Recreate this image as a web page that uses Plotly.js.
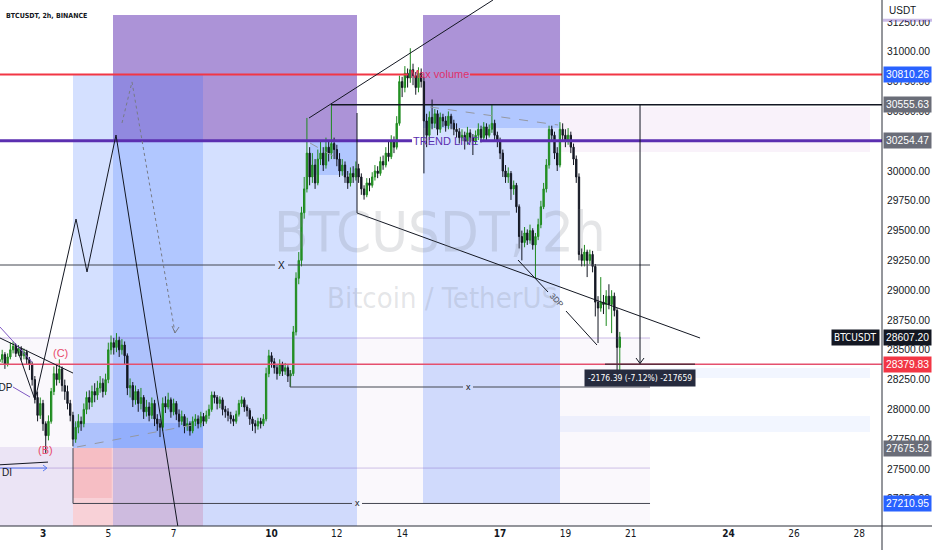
<!DOCTYPE html>
<html><head><meta charset="utf-8">
<script src="https://cdn.plot.ly/plotly-3.0.1.min.js"></script>
<style>html,body{margin:0;padding:0;background:#fff;}#chart{width:932px;height:550px;}</style>
</head><body><div id="chart"></div>
<script>
// ---- data (BTCUSDT 2h, BINANCE, April 2023) ----
const startTime = '2023-04-01T16:00:00Z';
const barHours = 2;
const opens = [
28400,28420,28460,28380,28440,28500,28530,28470,28510,28450,28480,28420,
28380,28250,28100,27950,28050,27880,27780,27900,28150,28300,28250,28340,
28200,28150,28050,27950,27750,27850,27900,27880,28000,28100,28060,28150,
28120,28180,28220,28150,28250,28500,28560,28520,28580,28500,28540,28450,
28180,28200,28080,28150,28050,28100,27980,28020,27950,28050,27920,27880,
27850,28050,28020,28080,27980,28050,27960,27900,27940,27860,27880,27820,
27900,27920,27880,27940,27900,27950,28000,28120,28100,28050,28080,28000,
27980,27950,27920,27900,27960,28050,28080,28020,27990,27920,27880,27860,
27900,27880,27920,28300,28450,28400,28350,28300,28380,28320,28350,28280,
28300,28650,29100,29250,29650,29850,30150,29950,30050,29900,30100,30150,
30050,30200,30150,30230,30180,30100,30000,30050,29950,29900,29980,29950,
30020,29950,29850,29800,29900,29880,29950,30000,29980,30080,30050,30150,
30120,30250,30200,30400,30750,30700,30820,30780,30850,30800,30700,30820,
30750,30420,30300,30450,30400,30480,30350,30450,30420,30380,30460,30400,
30350,30330,30280,30300,30250,30320,30280,30250,30300,30350,30280,30370,
30300,30350,30400,30300,30250,30150,30000,29950,29980,29850,29880,29700,
29450,29400,29480,29420,29500,29380,29450,29550,29700,29850,30050,30350,
30300,30150,30050,30350,30300,30250,30300,30200,30100,29950,29300,29250,
29320,29250,29300,29200,28900,28850,28900,28880,28950,28880,28950,28830,28520];
const highs = [
28470,28500,28480,28470,28560,28570,28550,28540,28530,28510,28500,28440,
28400,28280,28150,28100,28080,27900,27950,28180,28360,28380,28420,28360,
28250,28200,28080,27980,27900,27960,27940,28050,28150,28160,28200,28220,
28240,28280,28260,28300,28560,28620,28600,28640,28610,28590,28570,28470,
28260,28230,28200,28170,28180,28120,28080,28060,28100,28080,27960,27920,
28100,28110,28140,28100,28090,28070,28000,27990,27960,27930,27900,27940,
27960,27950,27980,27970,27990,28040,28150,28150,28120,28110,28100,28030,
28010,27980,27950,27990,28080,28110,28100,28040,28010,27940,27910,27930,
27930,27960,28350,28500,28480,28430,28380,28420,28400,28390,28370,28330,
28700,29150,29320,29700,29950,30445,30200,30150,30100,30180,30250,30200,
30280,30260,30555,30280,30220,30150,30100,30080,30000,30030,30040,30080,
30060,29980,29880,29940,29940,29990,30050,30040,30120,30130,30200,30260,
30300,30290,30460,30800,30790,30880,30860,31030,30900,30830,30870,30860,
30790,30480,30500,30600,30520,30510,30490,30480,30460,30500,30480,30430,
30400,30360,30350,30330,30370,30350,30310,30340,30400,30380,30410,30400,
30390,30555,30430,30330,30280,30180,30050,30030,30000,29920,29900,29720,
29500,29530,29510,29550,29520,29480,29600,29750,29900,30100,30380,30380,
30330,30200,30410,30400,30350,30360,30330,30230,30130,29980,29350,29380,
29340,29340,29330,29220,28950,29110,28960,29000,29050,29000,28980,28850,28650];
const lows = [
28350,28390,28340,28360,28420,28470,28440,28450,28410,28420,28380,28330,
28200,28050,27900,27920,27820,27635,27740,27880,28120,28200,28220,28150,
28080,28000,27900,27690,27720,27800,27820,27850,27960,28000,28020,28060,
28080,28140,28100,28120,28220,28460,28460,28480,28440,28460,28380,28120,
28100,28020,28040,27980,28000,27920,27940,27900,27920,27860,27820,27768,
27820,27970,28000,27930,27950,27910,27850,27870,27800,27820,27780,27800,
27860,27840,27850,27860,27880,27920,27980,28050,28000,28010,27950,27930,
27900,27880,27860,27880,27940,28020,27980,27940,27870,27820,27800,27830,
27840,27860,27900,28270,28350,28300,28250,28280,28280,28290,28230,28190,
28280,28620,29050,29200,29600,29820,29880,29900,29850,29880,30050,30000,
30020,30080,30100,30100,30040,29950,29960,29900,29850,29870,29900,29920,
29900,29800,29760,29780,29830,29860,29920,29940,29960,30010,30030,30080,
30100,30150,30180,30380,30620,30660,30700,30740,30720,30640,30660,30700,
29980,30200,30260,30350,30360,30300,30320,30370,30330,30350,30350,30300,
30280,30230,30250,30180,30220,30240,30134,30220,30260,30240,30250,30260,
30280,30320,30260,30200,30100,29950,29900,29900,29757,29800,29650,29350,
29250,29360,29380,29390,29340,29100,29420,29520,29680,29820,30020,30250,
30100,30000,30030,30250,30200,30220,30150,30050,29900,29250,29200,29200,
29110,29220,29150,28780,28557,28820,28800,28700,28840,28640,28780,28300,28330];
const closes = [
28420,28460,28380,28440,28500,28530,28470,28510,28450,28480,28420,28380,
28250,28100,27950,28050,27880,27780,27900,28150,28300,28250,28340,28200,
28150,28050,27950,27750,27850,27900,27880,28000,28100,28060,28150,28120,
28180,28220,28150,28250,28500,28560,28520,28580,28500,28540,28450,28180,
28200,28080,28150,28050,28100,27980,28020,27950,28050,27920,27880,27850,
28050,28020,28080,27980,28050,27960,27900,27940,27860,27880,27820,27900,
27920,27880,27940,27900,27950,28000,28120,28100,28050,28080,28000,27980,
27950,27920,27900,27960,28050,28080,28020,27990,27920,27880,27860,27900,
27880,27920,28300,28450,28400,28350,28300,28380,28320,28350,28280,28300,
28650,29100,29250,29650,29850,30150,29950,30050,29900,30100,30150,30050,
30200,30150,30230,30180,30100,30000,30050,29950,29900,29980,29950,30020,
29950,29850,29800,29900,29880,29950,30000,29980,30080,30050,30150,30120,
30250,30200,30400,30750,30700,30820,30780,30850,30800,30700,30820,30750,
30420,30300,30450,30400,30480,30350,30450,30420,30380,30460,30400,30350,
30330,30280,30300,30250,30320,30280,30250,30300,30350,30280,30370,30300,
30350,30400,30300,30250,30150,30000,29950,29980,29850,29880,29700,29450,
29400,29480,29420,29500,29380,29450,29550,29700,29850,30050,30350,30300,
30150,30050,30350,30300,30250,30300,30200,30100,29950,29300,29250,29320,
29250,29300,29200,28900,28850,28900,28880,28950,28880,28950,28830,28520,28607.2];

const priceTicks = [27250,27500,27750,28000,28250,28500,28750,29000,29250,29500,29750,30000,30500,30750,31000,31250];
const dayTicks = ['2023-04-03','2023-04-05','2023-04-07','2023-04-10','2023-04-12','2023-04-14','2023-04-17','2023-04-19','2023-04-21','2023-04-24','2023-04-26','2023-04-28'];
const dayLabels = ['<b>3</b>','5','7','<b>10</b>','12','14','<b>17</b>','19','21','<b>24</b>','26','28'];

const levels = {maxVolume:30810.26, high:30555.63, trend:30254.47, last:28607.20, low:28379.83, lvl2:27675.52, lvl3:27210.95};
const measureText = '-2176.39 (-7.12%) -217659';

// ---- build ----
const t0 = Date.parse(startTime);
const times = opens.map((_, i) => new Date(t0 + i*barHours*3600e3).toISOString().slice(0,16).replace('T',' '));

const P = 'rgba(103,58,183,0.55)', B = 'rgba(41,98,255,0.2)', R = 'rgba(242,54,69,0.2)';
const K = '#131722', G = '#434651';
const rects = [
 ['2023-04-01 00:00','2023-04-21 14:13',26800,28599,'rgba(103,58,183,0.035)'],
 ['2023-04-01 00:00','2023-04-03 22:03',26800,27685,'rgba(103,58,183,0.1)'],
 ['2023-04-05 03:27','2023-04-12 14:49',levels.trend,31308.7,P],
 ['2023-04-03 22:03','2023-04-07 21:37',levels.lvl2,levels.maxVolume,B],
 ['2023-04-03 22:03','2023-04-07 21:37',26800,levels.lvl2,R],
 ['2023-04-03 22:03','2023-04-05 02:30',27256.8,levels.lvl2,'rgba(242,54,69,0.12)'],
 ['2023-04-05 03:27','2023-04-12 14:49',26800,levels.trend,B],
 ['2023-04-14 15:20','2023-04-18 20:03',levels.high,31308.7,P],
 ['2023-04-14 15:20','2023-04-18 20:03',levels.lvl3,levels.high,B],
 ['2023-04-03 22:03','2023-04-07 21:37',levels.lvl2,27886,B],
 ['2023-04-11 04:16','2023-04-12 14:49',29966,levels.trend,B],
 ['2023-04-14 15:20','2023-04-18 20:03',30360.7,levels.high,B],
 ['2023-04-18 20:03','2023-04-28 07:55',30159,30537,'rgba(156,39,176,0.06)'],
 ['2023-04-21 14:13','2023-04-28 07:55',28263,28347,'rgba(41,98,255,0.06)'],
 ['2023-04-18 20:03','2023-04-28 07:55',27810,27945,'rgba(41,98,255,0.06)']
];
const segs = [
 ['2023-04-01 00:00',28599,'2023-04-21 14:13',28599,'rgba(103,58,183,0.35)',1,'solid'],
 ['2023-04-01 00:00',27508,'2023-04-21 14:13',27508,'rgba(103,58,183,0.3)',1,'solid'],
 ['2023-04-01 00:00',levels.maxVolume,'2023-04-14 04:18',levels.maxVolume,'#f23645',2,'solid'],
 ['2023-04-16 01:54',levels.maxVolume,'2023-04-30 00:00',levels.maxVolume,'#f23645',2,'solid'],
 ['2023-04-01 00:00',levels.trend,'2023-04-14 07:16',levels.trend,'#5b2fb0',3,'solid'],
 ['2023-04-16 09:13',levels.trend,'2023-04-30 00:00',levels.trend,'#5b2fb0',3,'solid'],
 ['2023-04-11 19:43',levels.high,'2023-04-30 00:00',levels.high,K,1.5,'solid'],
 ['2023-04-01 00:00',levels.low,'2023-04-30 00:00',levels.low,'#e5506e',1.5,'solid'],
 ['2023-04-20 05:08',levels.low,'2023-04-22 23:18',levels.low,K,1,'solid'],
 ['2023-04-01 00:00',29211.4,'2023-04-10 02:33',29211.4,G,1,'solid'],
 ['2023-04-10 12:06',29211.4,'2023-04-21 14:13',29211.4,G,1,'solid'],
 ['2023-04-10 13:34',28188,'2023-04-15 20:45',28188,G,1,'solid'],
 ['2023-04-16 04:05',28188,'2023-04-21 14:13',28188,G,1,'solid'],
 ['2023-04-03 22:03',levels.lvl3,'2023-04-12 11:08',levels.lvl3,G,1,'solid'],
 ['2023-04-12 18:30',levels.lvl3,'2023-04-21 14:13',levels.lvl3,G,1,'solid'],
 ['2023-04-03 22:03',levels.lvl3,'2023-04-03 22:03',levels.lvl2,G,1,'solid'],
 ['2023-04-10 13:34',28188,'2023-04-10 13:34',28330,G,1,'solid'],
 ['2023-04-21 06:52',levels.high,'2023-04-21 06:52',28385,K,1,'solid'],
 ['2023-04-21 03:56',28431,'2023-04-21 06:52',28385,K,1,'solid'],
 ['2023-04-21 09:48',28431,'2023-04-21 06:52',28385,K,1,'solid'],
 ['2023-04-11 03:32',30444.6,'2023-04-16 18:47',31434.5,K,1,'solid'],
 ['2023-04-12 14:49',30486.6,'2023-04-12 14:49',29647.7,K,1,'solid'],
 ['2023-04-12 14:49',29647.7,'2023-04-23 03:00',28599,K,1,'solid'],
 ['2023-04-17 13:10',29253.4,'2023-04-18 11:13',28985,K,1,'solid'],
 ['2023-04-19 00:27',28825.5,'2023-04-19 23:14',28540.3,K,1,'solid'],
 ['2023-04-02 03:25',28557,'2023-04-02 18:07',28079,K,1,'solid'],
 ['2023-04-02 18:07',28079,'2023-04-04 00:16',29597,K,1,'solid'],
 ['2023-04-04 00:16',29597,'2023-04-04 08:21',29153,K,1,'solid'],
 ['2023-04-04 08:21',29153,'2023-04-05 05:40',30302,K,1,'solid'],
 ['2023-04-05 05:40',30302,'2023-04-07 04:42',26904.5,K,1,'solid'],
 ['2023-04-01 16:23',28599,'2023-04-03 22:03',28305,K,1,'solid'],
 ['2023-04-01 16:23',28691,'2023-04-02 15:55',28398,'#7e57c2',1,'solid'],
 ['2023-04-02 01:57',28188,'2023-04-02 14:26',28104,'#7e57c2',1,'solid'],
 ['2023-04-01 00:00',27525,'2023-04-03 03:40',27558,K,1,'solid'],
 ['2023-04-01 00:00',27508,'2023-04-03 02:56',27508,'#5b7cf0',1,'solid'],
 ['2023-04-03 00:00',27533,'2023-04-03 02:56',27508,'#5b7cf0',1,'solid'],
 ['2023-04-03 00:00',27483,'2023-04-03 02:56',27508,'#5b7cf0',1,'solid'],
 ['2023-04-05 10:04',30403,'2023-04-05 17:25',30747,'#787b86',1,'dot'],
 ['2023-04-05 17:25',30747,'2023-04-07 01:02',28641,'#787b86',1,'dot'],
 ['2023-04-06 22:50',28699.7,'2023-04-07 01:02',28641,'#787b86',1,'solid'],
 ['2023-04-07 04:00',28691.3,'2023-04-07 01:02',28641,'#787b86',1,'solid'],
 ['2023-04-04 01:00',27685,'2023-04-07 21:37',27886,'#9598a1',1,'dash'],
 ['2023-04-11 04:16',30235,'2023-04-12 02:19',30092,'#9598a1',1,'dash'],
 ['2023-04-14 20:29',30537,'2023-04-18 18:34',30386,'#9598a1',1,'dash']
];

const shapes = [];
rects.forEach(r => shapes.push({type:'rect', xref:'x', yref:'y', x0:r[0], x1:r[1], y0:r[2], y1:r[3], fillcolor:r[4], line:{width:0}, layer:'below'}));
segs.forEach(s => shapes.push({type:'line', xref:'x', yref:'y', x0:s[0], y0:s[1], x1:s[2], y1:s[3], line:{color:s[4], width:s[5], dash:s[6]}, layer:'above'}));
// axis furniture
shapes.push({type:'rect', xref:'paper', yref:'paper', x0:1.001, x1:1.06, y0:0.962, y1:1.0, fillcolor:'#ffffff', line:{width:0}, layer:'above'});
shapes.push({type:'rect', xref:'paper', yref:'paper', x0:1.001, x1:1.06, y0:0.9585, y1:0.9645, fillcolor:'rgba(103,58,183,0.35)', line:{width:0}, layer:'above'});
shapes.push({type:'line', xref:'paper', yref:'paper', x0:1, x1:1, y0:-0.05, y1:1, line:{color:'#2a2e39', width:1}, layer:'above'});
shapes.push({type:'line', xref:'paper', yref:'paper', x0:0, x1:1.06, y0:0, y1:0, line:{color:'#2a2e39', width:1}, layer:'above'});

const FONT = 'Liberation Sans, Arial, sans-serif';
const NARROW = 'Liberation Sans Narrow, DejaVu Sans Condensed, Liberation Sans, sans-serif';
const ann = [];
function txt(x, y, text, size, color, extra) { ann.push(Object.assign({x, y, xref:'x', yref:'y', text, showarrow:false, font:{size, color, family:FONT}}, extra||{})); }
txt('2023-04-15 03:30', levels.maxVolume, 'Max volume', 11, '#e0316a');
txt('2023-04-15 08:13', levels.trend, 'TREND LINE', 11, '#5b2fb0');
txt('2023-04-10 07:18', 29211.4, 'X', 10, K);
txt('2023-04-16 00:25', 28188, 'x', 9, K);
txt('2023-04-12 14:49', levels.lvl3, 'x', 9, K);
txt('2023-04-18 17:50', 28917.8, '3DP', 8, G, {textangle:47});
txt('2023-04-03 12:30', 28473, '(C)', 11, '#e84a6b');
txt('2023-04-03 01:28', 27660, '(B)', 11, '#e84a6b');
txt('2023-04-02 03:25', 28188, '3DP', 10, K, {xanchor:'right'});
txt('2023-04-01 16:30', 27470, 'DI', 10, K, {xanchor:'left'});
ann.push({x:'2023-04-21 07:00', y:28263.5, xref:'x', yref:'y', text:measureText, showarrow:false, bgcolor:'#262b3e', borderpad:3, font:{size:8.5, color:'#ffffff', family:NARROW}});
// watermark
ann.push({xref:'paper', yref:'paper', x:0.499, y:0.559, text:'BTCUSDT, 2h', showarrow:false, font:{size:56, color:'rgba(120,123,134,0.2)', family:NARROW}});
ann.push({xref:'paper', yref:'paper', x:0.502, y:0.434, text:'Bitcoin / TetherUS', showarrow:false, font:{size:29, color:'rgba(120,123,134,0.2)', family:NARROW}});
// header
ann.push({xref:'paper', yref:'paper', x:0.005, y:0.981, xanchor:'left', text:'<b>BTCUSDT, 2h, BINANCE</b>', showarrow:false, font:{size:7, color:K, family:NARROW}});
ann.push({xref:'paper', yref:'paper', x:1, y:1, xanchor:'left', yanchor:'top', xshift:5, yshift:-3, text:'USDT', showarrow:false, font:{size:10, color:K, family:FONT}});
// price badges
const badges = [
 [levels.maxVolume,'#2962ff'],[levels.high,'#6a6d78'],[levels.trend,'#6a6d78'],
 [levels.last,'#131722'],[levels.low,'#f23645'],[levels.lvl2,'#6a6d78'],[levels.lvl3,'#2962ff']
];
badges.forEach(b => ann.push({xref:'paper', yref:'y', x:1, y:b[0], xanchor:'left', xshift:1, text:b[0].toFixed(2), showarrow:false, bgcolor:b[1], borderpad:2, font:{size:10.3, color:'#ffffff', family:FONT}}));
ann.push({xref:'paper', yref:'y', x:1, y:levels.last, xanchor:'right', xshift:-2, text:'BTCUSDT', showarrow:false, bgcolor:'#131722', borderpad:2, font:{size:10, color:'#ffffff', family:NARROW}});

const trace = {
  type:'candlestick', x:times, open:opens, high:highs, low:lows, close:closes,
  increasing:{line:{color:'#1e8a1e', width:1}, fillcolor:'#2b9a2b'},
  decreasing:{line:{color:'#131722', width:1}, fillcolor:'#131722'},
  hoverinfo:'skip', showlegend:false
};

const layout = {
  width:932, height:550, margin:{l:0, r:50, t:0, b:24},
  paper_bgcolor:'#ffffff', plot_bgcolor:'#ffffff', showlegend:false,
  xaxis:{type:'date', range:['2023-04-01 16:23','2023-04-28 16:45'], tickvals:dayTicks, ticktext:dayLabels,
         showgrid:false, zeroline:false, showline:false, ticks:'', tickfont:{size:10, color:K, family:NARROW},
         rangeslider:{visible:false}, fixedrange:true},
  yaxis:{side:'right', range:[27021.9, 31434.5], tickvals:priceTicks, ticktext:priceTicks.map(v => v.toFixed(2)),
         showgrid:false, zeroline:false, showline:false, ticks:'', ticklabelstandoff:4,
         tickfont:{size:10.3, color:K, family:FONT}, fixedrange:true},
  shapes, annotations:ann
};
Plotly.newPlot('chart', [trace], layout, {staticPlot:true, displayModeBar:false});
</script></body></html>
